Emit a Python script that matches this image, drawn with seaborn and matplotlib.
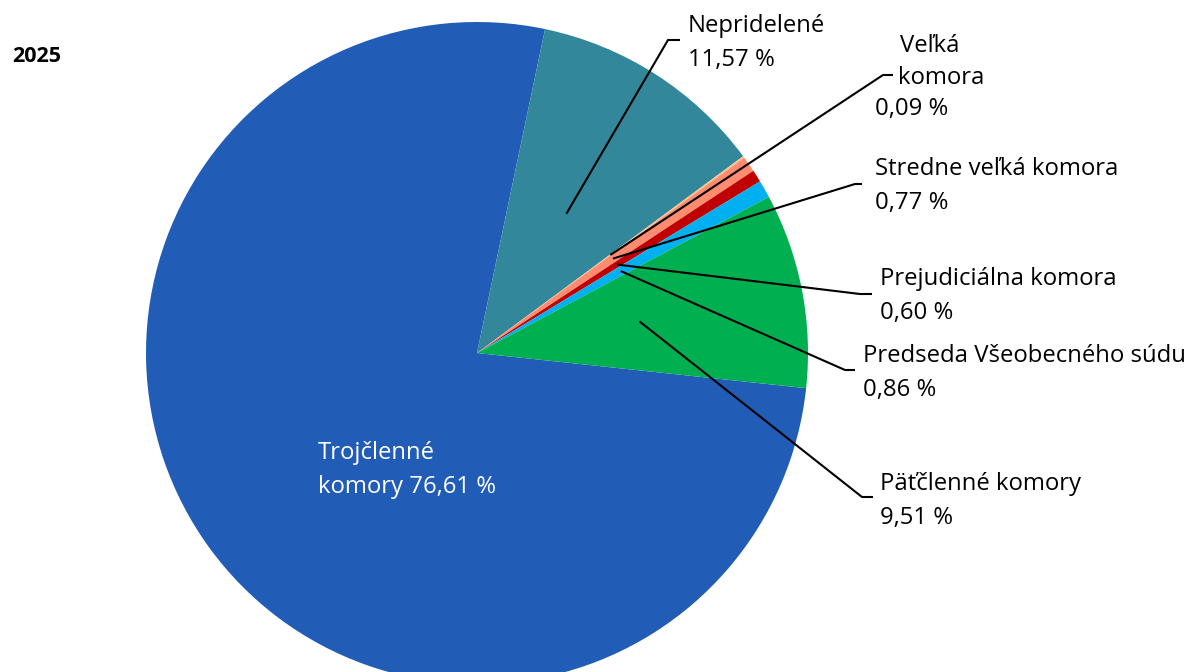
import numpy as np
import matplotlib.pyplot as plt
import seaborn as sns

# data
kategorie = [
    "Trojčlenné komory",
    "Nepridelené",
    "Veľká komora",
    "Stredne veľká komora",
    "Prejudiciálna komora",
    "Predseda Všeobecného súdu",
    "Päťčlenné komory",
]
podiely = [76.61, 11.57, 0.09, 0.77, 0.60, 0.86, 9.51]
farby = ["#215DB6", "#33879B", "#F2C48A", "#FF8C6E", "#C00000", "#00B0F0", "#00B050"]
texty = [
    "Trojčlenné\nkomory 76,61 %",
    "Nepridelené\n11,57 %",
    None,
    "Stredne veľká komora\n0,77 %",
    "Prejudiciálna komora\n0,60 %",
    "Predseda Všeobecného súdu\n0,86 %",
    "Päťčlenné komory\n9,51 %",
]

W, H = 1186, 672

sns.set_theme(style="white")
plt.rcParams["font.family"] = ["Open Sans", "DejaVu Sans"]

fig = plt.figure(figsize=(W / 100, H / 100), dpi=100)
ax = fig.add_axes([0, 0, 1, 1])

cx, cy, r = 477, H - 353, 331
wedges, _ = ax.pie(
    podiely,
    colors=farby,
    startangle=-6.1,
    counterclock=False,
    center=(cx, cy),
    radius=r,
    wedgeprops=dict(linewidth=0),
    frame=True,
)
ax.set_xlim(0, W)
ax.set_ylim(0, H)
ax.axis("off")


def py(y):
    return H - y


def vodic(w, elbow, koniec_x):
    # leader line from inside the wedge (half radius) to the label
    th = np.deg2rad((w.theta1 + w.theta2) / 2)
    x0 = cx + 0.5 * r * np.cos(th)
    y0 = cy + 0.5 * r * np.sin(th)
    ax.plot([x0, elbow[0], koniec_x], [y0, py(elbow[1]), py(elbow[1])],
            color="black", lw=1.5, solid_capstyle="butt")


fs = 17.2
ls = 1.52
kw = dict(fontsize=fs, va="center", ha="left", color="black", linespacing=ls)

# Trojčlenné - inside, white
ax.text(318, py(470), texty[0], **{**kw, "color": "white"})

# Nepridelené
vodic(wedges[1], (668, 40), 680)
ax.text(688, py(43), texty[1], **kw)

# Veľká komora
vodic(wedges[2], (883, 75), 893)
ax.text(900, py(46), "Veľká", **kw)
ax.text(898, py(78), "komora", **kw)
ax.text(875, py(109), "0,09 %", **kw)

# Stredne veľká komora
vodic(wedges[3], (855, 184), 862)
ax.text(875, py(186), texty[3], **kw)

# Prejudiciálna komora
vodic(wedges[4], (860, 294), 872)
ax.text(880, py(296), texty[4], **kw)

# Predseda
vodic(wedges[5], (845, 370), 855)
ax.text(863, py(373), texty[5], **kw)

# Päťčlenné
vodic(wedges[6], (862, 497), 873)
ax.text(880, py(501), texty[6], **kw)

ax.text(12, py(57), "2025", fontsize=15.5, fontweight="bold", va="center", ha="left",
        color="black")

fig.savefig("out.png", dpi=100)
